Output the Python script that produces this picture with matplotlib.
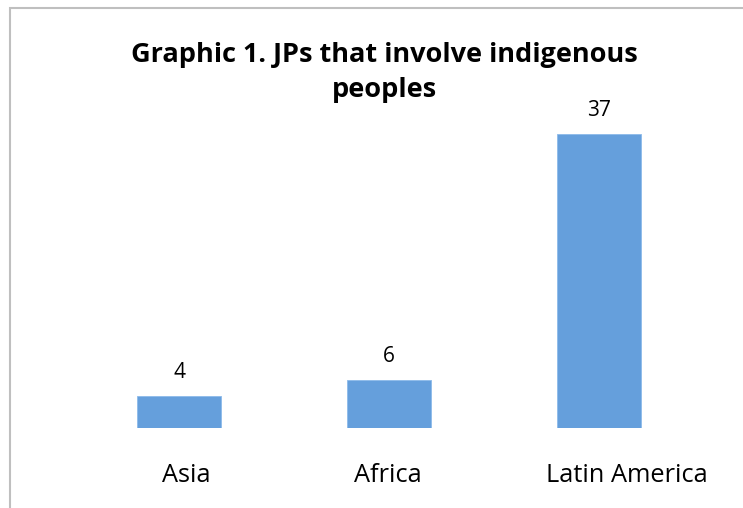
import matplotlib.pyplot as plt
from matplotlib.patches import Rectangle
from matplotlib.transforms import ScaledTranslation

categories = ["Asia", "Africa", "Latin America"]
values = [4, 6, 37]
title_lines = ["Graphic 1. JPs that involve indigenous", "peoples"]

plt.rcParams['font.family'] = ['Open Sans', 'DejaVu Sans']

fig = plt.figure(figsize=(7.43, 5.08), dpi=100)
ax = fig.add_axes([74 / 743, 80 / 508, 630 / 743, 318 / 508])

x = range(len(categories))
bars = ax.bar(x, values, width=0.4, color="#659fdc", edgecolor="#8cbaea", linewidth=0.6)
for b, v in zip(bars, values):
    ax.annotate(str(v), (b.get_x() + b.get_width() / 2, v), xytext=(0, 17),
                textcoords="offset points", ha="center", va="center", fontsize=15)

ax.set_xlim(-0.5, 2.5)
ax.set_ylim(0, 40)
ax.set_xticks(list(x))
ax.set_xticklabels(categories, fontsize=18.3)
ax.tick_params(axis="x", length=0, pad=25)
ax.set_yticks([])
for s in ax.spines.values():
    s.set_visible(False)

# labels in the source sit a bit off the bar centres
shifts = [7, -1, 28]
for lab, dx in zip(ax.get_xticklabels(), shifts):
    lab.set_transform(lab.get_transform() + ScaledTranslation(dx / 100, 0, fig.dpi_scale_trans))

# title, one text per line (baselines at 62 and 97 px from the top)
for line, base in zip(title_lines, [62, 97]):
    fig.text(384 / 743, 1 - base / 508, line, ha="center", va="baseline",
             fontsize=19.5, fontweight="bold")

# outer chart frame
fig.patches.append(Rectangle((10 / 743, -0.1), 1.2, 1 - 8 / 508 + 0.1,
                             transform=fig.transFigure, fill=False,
                             edgecolor="#bfbfbf", linewidth=1.5))

fig.savefig("out.png", dpi=100)
